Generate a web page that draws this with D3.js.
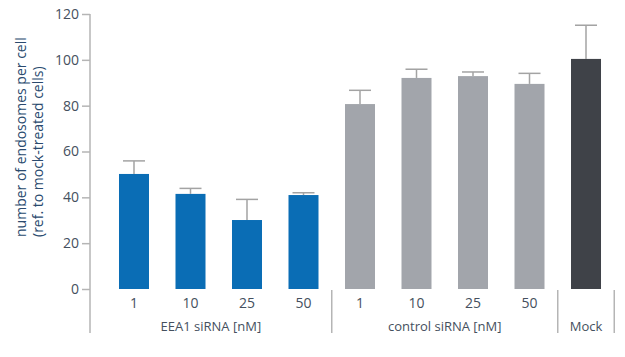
<!DOCTYPE html>
<html><head><meta charset="utf-8">
<script src="https://cdn.jsdelivr.net/npm/d3@7"></script>
<style>body{margin:0;background:#fff}svg{display:block}</style>
</head><body><svg id="c" width="625" height="357"></svg>
<script>
const categories = ["1","10","25","50","1","10","25","50",""];
const groups = ["EEA1","EEA1","EEA1","EEA1","control","control","control","control","Mock"];
const values = [50.2, 41.5, 30.1, 41.0, 80.7, 92.1, 92.9, 89.5, 100.4];
const errors = [55.9, 43.9, 39.1, 42.0, 86.7, 95.9, 94.7, 94.1, 115.1];
const groupLabels = ["EEA1 siRNA [nM]","control siRNA [nM]","Mock"];
const groupKeys = ["EEA1","control","Mock"];
const yTicks = [0,20,40,60,80,100,120];
const colors = {EEA1:"#0a6db5", control:"#a2a5ab", Mock:"#3f4248"};

const svg = d3.select("#c");
const font = "'Open Sans', sans-serif";
const textCol = "#45505e";
const axisCol = "#b5b5b5";

const y = d3.scaleLinear().domain([0,120]).range([289,14]);
const x = d3.scaleBand().domain(d3.range(values.length)).range([91,629]).paddingInner(0.469).paddingOuter(0.4955);

// y axis
const yAxis = d3.axisLeft(y).tickValues(yTicks).tickSize(8).tickPadding(3);
const gy = svg.append("g").attr("transform","translate(90,0)").call(yAxis);
gy.select(".domain").remove();
gy.selectAll(".tick line").attr("stroke",axisCol).attr("stroke-width",1.5);
gy.selectAll(".tick text").attr("fill",textCol).attr("font-family",font).attr("font-size",14);
svg.append("line").attr("x1",90).attr("x2",90).attr("y1",y(120)).attr("y2",333)
  .attr("stroke",axisCol).attr("stroke-width",1.5);

// bars
svg.selectAll("rect.bar").data(values).join("rect").attr("class","bar")
  .attr("x",(d,i)=>x(i)).attr("width",x.bandwidth())
  .attr("y",d=>y(d)).attr("height",d=>y(0)-y(d))
  .attr("fill",(d,i)=>colors[groups[i]]);

// error bars
const eb = svg.selectAll("g.err").data(values).join("g").attr("class","err");
eb.append("line")
  .attr("x1",(d,i)=>x(i)+x.bandwidth()/2).attr("x2",(d,i)=>x(i)+x.bandwidth()/2)
  .attr("y1",d=>y(d)).attr("y2",(d,i)=>y(errors[i]))
  .attr("stroke","#a3a3a3").attr("stroke-width",1.5);
eb.append("line")
  .attr("x1",(d,i)=>x(i)+x.bandwidth()/2-11).attr("x2",(d,i)=>x(i)+x.bandwidth()/2+11)
  .attr("y1",(d,i)=>y(errors[i])).attr("y2",(d,i)=>y(errors[i]))
  .attr("stroke","#a3a3a3").attr("stroke-width",1.5);

// category labels
svg.selectAll("text.cat").data(categories).join("text").attr("class","cat")
  .attr("x",(d,i)=>x(i)+x.bandwidth()/2).attr("y",308)
  .attr("text-anchor","middle").attr("font-family",font).attr("font-size",14)
  .attr("fill",textCol).text(d=>d);

// group separators and labels
const step = x.step();
const bounds = groupKeys.map(k=>{
  const idx = groups.map((g,i)=>g===k?i:-1).filter(i=>i>=0);
  const first = d3.min(idx), last = d3.max(idx);
  return [x(first)-(step-x.bandwidth())/2, x(last)+x.bandwidth()+(step-x.bandwidth())/2];
});
bounds.forEach((b,gi)=>{
  const left = gi===0 ? 90 : b[0];
  const right = b[1];
  if (gi>0) svg.append("line").attr("x1",left).attr("x2",left).attr("y1",290).attr("y2",333)
    .attr("stroke",axisCol).attr("stroke-width",1.5);
  if (gi===groupKeys.length-1) svg.append("line").attr("x1",right).attr("x2",right).attr("y1",290).attr("y2",333)
    .attr("stroke",axisCol).attr("stroke-width",1.5);
  svg.append("text").attr("x",(left+right)/2).attr("y",331)
    .attr("text-anchor","middle").attr("font-family",font).attr("font-size",13)
    .attr("fill",textCol).text(groupLabels[gi]);
});

// y label
const yl = svg.append("text").attr("transform","translate(26,237) rotate(-90)")
  .attr("font-family",font).attr("font-size",14).attr("fill","#2a4a6e");
yl.append("tspan").attr("x",0).attr("y",0).text("number of endosomes per cell");
yl.append("tspan").attr("x",0).attr("y",17).text("(ref. to mock-treated cells)");
</script></body></html>
